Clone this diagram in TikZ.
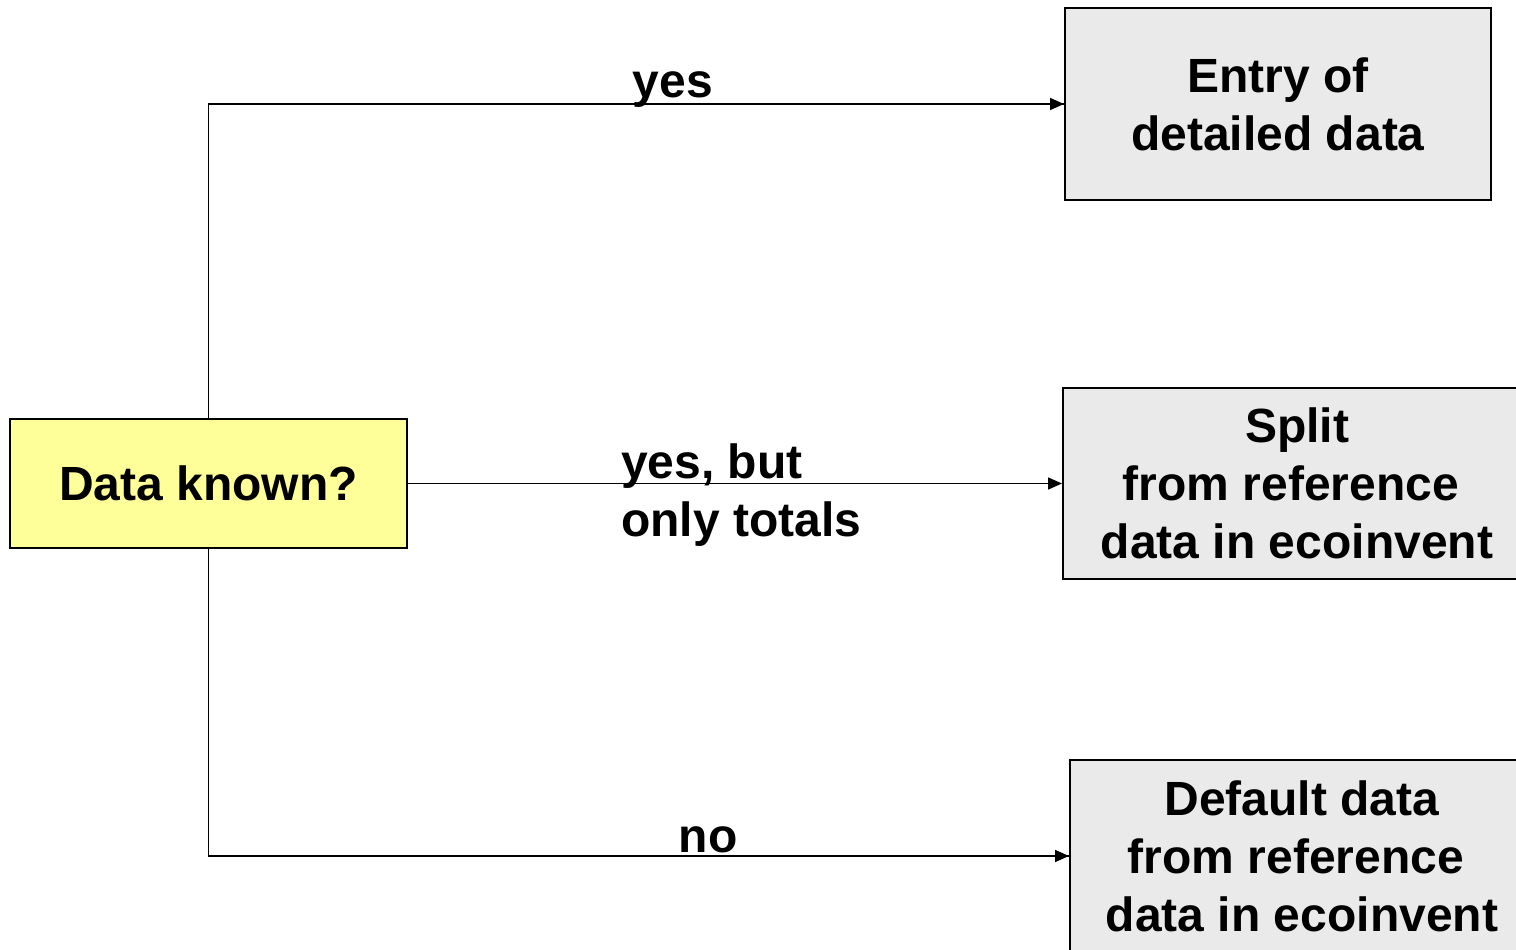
\documentclass[tikz,border=0pt]{standalone}
\usepackage{fontspec}
\setmainfont{Liberation Sans}
\usetikzlibrary{arrows.meta}
\definecolor{boxyellow}{HTML}{FFFF99}
\definecolor{boxgray}{HTML}{EAEAEA}
\begin{document}
\begin{tikzpicture}[x=1pt,y=-1pt,
  bigtext/.style={font=\fontsize{48}{58}\selectfont\bfseries},
  box/.style={draw=black,line width=2pt,inner sep=0pt,bigtext,align=center,anchor=center},
  conn/.style={line width=1.6pt,-{Triangle[length=14pt,width=12pt]}},
  plain/.style={line width=1.6pt},
  lbl/.style={bigtext,inner sep=0pt}]
\useasboundingbox (0,0) rectangle (1516,950);
\fill[white] (0,0) rectangle (1516,950);
\node[box,fill=boxyellow,minimum width=397pt,minimum height=129pt] (dk) at (208.5,483.5) {Data known?};
\node[box,fill=boxgray,minimum width=426pt,minimum height=192pt] (entry) at (1278,104) {Entry of\\detailed data};
\node[box,fill=boxgray,minimum width=468pt,minimum height=191pt] (split) at (1297,483.5) {Split\\from reference\kern12pt\\data in ecoinvent};
\node[box,fill=boxgray,minimum width=464pt,minimum height=192pt] (default) at (1302,856) {Default data\\from reference\kern12pt\\data in ecoinvent};
\draw[plain] (dk.north) |- coordinate (c1) (entry.west);
\draw[conn] (c1) -- (entry.west);
\draw[conn] (dk.east) -- (split.west);
\draw[plain] (dk.south) |- coordinate (c2) (default.west);
\draw[conn] (c2) -- (default.west);
\node[lbl,anchor=base] (lyes) at (673,97) {yes};
\node[lbl,anchor=base west] (lbut) at (621,478) {yes, but};
\node[lbl,anchor=base west] (ltot) at (621,536) {only totals};
\node[lbl,anchor=base] (lno) at (708,852) {no};
\end{tikzpicture}
\end{document}
